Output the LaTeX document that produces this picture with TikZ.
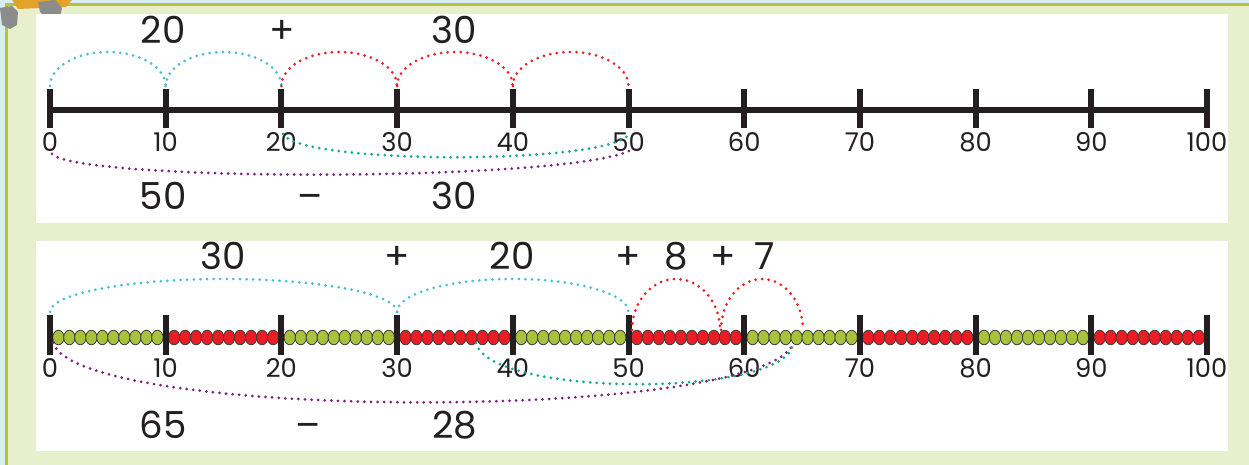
\documentclass[tikz,border=0pt]{standalone}
\usepackage{fontspec}
\setmainfont{Poppins}
\usetikzlibrary{calc}
\definecolor{bgbeige}{HTML}{E8EFCD}
\definecolor{bordergreen}{HTML}{B3C63A}
\definecolor{borderblue}{HTML}{D6EEF4}
\definecolor{arccyan}{HTML}{45C0D2}
\definecolor{arcred}{HTML}{EE1C25}
\definecolor{arcpurple}{HTML}{7A1F7C}
\definecolor{arcteal}{HTML}{0FAA86}
\definecolor{beadgreen}{HTML}{A9C23B}
\definecolor{beadred}{HTML}{EC1C24}
\definecolor{beadline}{HTML}{3C3C3C}
\definecolor{inkblack}{HTML}{231F20}
\definecolor{rockgray}{HTML}{8C8C8C}
\definecolor{rockorange}{HTML}{E3A22A}
\begin{document}
\begin{tikzpicture}[x=0.5pt,y=0.5pt,
  dots/.style={line width=1.5pt, dash pattern=on 0pt off 3.3pt, line cap=round},
  axisline/.style={line width=3pt, draw=inkblack},
  tickmark/.style={line width=3pt, draw=inkblack},
  ticklabel/.style={anchor=base, font=\fontsize{12.9}{14}\selectfont, text=inkblack, inner sep=0pt},
  biglabel/.style={anchor=base, font=\fontsize{18.6}{20}\selectfont, text=inkblack, inner sep=0pt},
  bead/.style={draw=beadline, line width=0.4pt},
  panel/.style={fill=white}]

\fill[bgbeige] (0,0) rectangle (1249,465);
\useasboundingbox (0,0) rectangle (1249,465);

% frame lines
\fill[borderblue] (0,462) rectangle (1249,465);
\fill[bordergreen] (0,459) rectangle (1249,462);
\fill[borderblue] (0,0) rectangle (5,462);
\fill[bordergreen] (5,0) rectangle (8,459);

% corner decoration fragment
\fill[rockorange] (12,465) -- (72,465) -- (66,458) -- (18,456) -- cycle;
\fill[rockgray] (0,457) -- (12,459) -- (18,453) -- (17,440) -- (10,436) -- (2,440) -- cycle;
\fill[rockgray] (38,463) -- (55,465) -- (62,457) -- (60,447) -- (48,445) -- (40,453) -- cycle;

% panels
\fill[panel] (36,242) rectangle (1228,451);
\fill[panel] (36,14) rectangle (1228,224);

% ---------- top number line ----------
\coordinate (aL) at (50,355);
\coordinate (aR) at (1207,355);
\draw[axisline] (aL) -- (aR);
\foreach \i [evaluate=\i as \v using int(10*\i), evaluate=\i as \xx using 50+115.7*\i] in {0,...,10} {
  \coordinate (ta\i) at (\xx,355);
  \draw[tickmark] ($(ta\i)+(0,-18)$) -- ($(ta\i)+(0,21)$);
  \node[ticklabel] (la\i) at (\xx,313) {\v};
}
% jumps above
\coordinate (ja0) at (50,379);
\coordinate (ja1) at (165.7,379);
\coordinate (ja2) at (281.4,379);
\coordinate (ja3) at (397.1,379);
\coordinate (ja4) at (512.8,379);
\draw[dots, arccyan] (ja0) arc[start angle=180, end angle=0, x radius=57.85, y radius=34];
\draw[dots, arccyan] (ja1) arc[start angle=180, end angle=0, x radius=57.85, y radius=34];
\draw[dots, arcred] (ja2) arc[start angle=180, end angle=0, x radius=57.85, y radius=34];
\draw[dots, arcred] (ja3) arc[start angle=180, end angle=0, x radius=57.85, y radius=34];
\draw[dots, arcred] (ja4) arc[start angle=180, end angle=0, x radius=57.85, y radius=34];
% curves below
\coordinate (pa0) at (52,311);
\coordinate (pa1) at (629,314);
\draw[dots, arcpurple] (pa0) .. controls (80,283) and (560,283) .. (pa1);
\coordinate (ga0) at (283,331);
\coordinate (ga1) at (629,331);
\draw[dots, arcteal] (ga0) .. controls (300,300) and (610,300) .. (ga1);
% labels
\node[biglabel] (n20) at (163,421) {20};
\node[biglabel] (np1) at (282,421) {+};
\node[biglabel] (n30) at (454,421) {30};
\node[biglabel] (n50) at (163,255) {50};
\node[biglabel] (nm1) at (310,255) {–};
\node[biglabel] (n30b) at (454,255) {30};

% ---------- bottom number line with beads ----------
\coordinate (bL) at (50,127.5);
\coordinate (bR) at (1207,127.5);
\draw[axisline] (bL) -- (bR);
\foreach \s in {0,...,9} {
  \pgfmathtruncatemacro{\odd}{mod(\s,2)}
  \ifnum\odd=0 \def\bc{beadgreen}\else\def\bc{beadred}\fi
  \foreach \k in {0,...,9} {
    \draw[bead, fill=\bc] ({50+115.7*\s+8.4+11*\k},127.5) ellipse[x radius=5.7, y radius=7.3];
  }
}
\foreach \i [evaluate=\i as \v using int(10*\i), evaluate=\i as \xx using 50+115.7*\i] in {0,...,10} {
  \coordinate (tb\i) at (\xx,127.5);
  \draw[tickmark] ($(tb\i)+(0,-17.5)$) -- ($(tb\i)+(0,22.5)$);
  \node[ticklabel] (lb\i) at (\xx,87) {\v};
}
% jumps above
\coordinate (jb0) at (50,153);
\coordinate (jb1) at (397.1,153);
\coordinate (jb2) at (632,135);
\coordinate (jb3) at (721,135);
\draw[dots, arccyan] (jb0) arc[start angle=180, end angle=0, x radius=173.55, y radius=33];
\draw[dots, arccyan] (jb1) arc[start angle=180, end angle=0, x radius=115.7, y radius=33];
\draw[dots, arcred] (jb2) arc[start angle=180, end angle=0, x radius=44, y radius=51];
\draw[dots, arcred] (jb3) arc[start angle=180, end angle=0, x radius=41, y radius=51];
% curves below
\coordinate (pb0) at (53,122);
\coordinate (pb1) at (793,121);
\draw[dots, arcpurple] (pb0) .. controls (80,43) and (760,43) .. (pb1);
\coordinate (gb0) at (476,122);
\coordinate (gb1) at (793,122);
\draw[dots, arcteal] (gb0) .. controls (490,67) and (790,67) .. (gb1);
% labels
\node[biglabel] (m30) at (223,195) {30};
\node[biglabel] (mp1) at (397,195) {+};
\node[biglabel] (m20) at (512,195) {20};
\node[biglabel] (mp2) at (628,195) {+};
\node[biglabel] (m8) at (676,195) {8};
\node[biglabel] (mp3) at (723,195) {+};
\node[biglabel] (m7) at (765,195) {7};
\node[biglabel] (m65) at (163,26) {65};
\node[biglabel] (mm1) at (308,26) {–};
\node[biglabel] (m28) at (455,26) {28};
\end{tikzpicture}
\end{document}
